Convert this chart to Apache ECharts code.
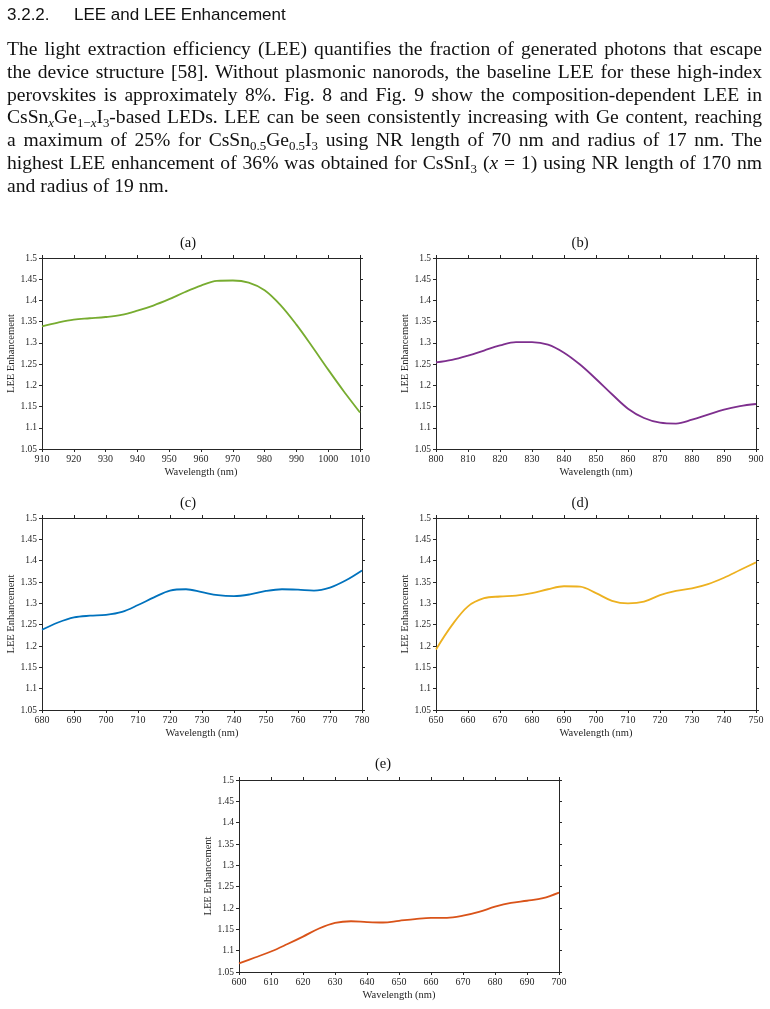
<!DOCTYPE html>
<html>
<head>
<meta charset="utf-8">
<script src="https://cdn.jsdelivr.net/npm/echarts@6/dist/echarts.min.js"></script>
<style>
  html, body { margin: 0; padding: 0; background: #fff; }
  #page { position: relative; width: 770px; height: 1009px; overflow: hidden; }
  #chart { position: absolute; left: 0; top: 0; width: 770px; height: 1009px; }
  #head { position: absolute; left: 7px; top: 5px; font-family: "Liberation Sans", Arial, sans-serif; font-size: 17px; color: #111; white-space: pre; }
  #head .num { display: inline-block; width: 67px; }
  #para { position: absolute; left: 7px; top: 38px; width: 755px; font-family: "Liberation Serif", "Times New Roman", serif; font-size: 19.6px; line-height: 22.8px; color: #111; }
  #para .ln { text-align: justify; text-align-last: justify; white-space: nowrap; }
  #para .ln.last { text-align-last: left; }
  #para sub { font-size: 66%; vertical-align: -0.3em; line-height: 0; }
</style>
</head>
<body>
<div id="page">
  <div id="chart"></div>
  <div id="head"><span class="num">3.2.2.</span>LEE and LEE Enhancement</div>
  <div id="para">
    <div class="ln">The light extraction efficiency (LEE) quantifies the fraction of generated photons that escape</div>
    <div class="ln">the device structure [58]. Without plasmonic nanorods, the baseline LEE for these high-index</div>
    <div class="ln">perovskites is approximately 8%. Fig. 8 and Fig. 9 show the composition-dependent LEE in</div>
    <div class="ln">CsSn<sub><i>x</i></sub>Ge<sub>1−<i>x</i></sub>I<sub>3</sub>-based LEDs. LEE can be seen consistently increasing with Ge content, reaching</div>
    <div class="ln">a maximum of 25% for CsSn<sub>0.5</sub>Ge<sub>0.5</sub>I<sub>3</sub> using NR length of 70 nm and radius of 17 nm. The</div>
    <div class="ln">highest LEE enhancement of 36% was obtained for CsSnI<sub>3</sub> (<i>x</i> = 1) using NR length of 170 nm</div>
    <div class="ln last">and radius of 19 nm.</div>
  </div>
</div>
<script>
// keep every justified line inside the text column
document.querySelectorAll('#para .ln').forEach(ln => {
  const probe = document.createElement('span');
  probe.style.whiteSpace = 'nowrap';
  probe.innerHTML = ln.innerHTML;
  ln.innerHTML = '';
  ln.appendChild(probe);
  const w = probe.getBoundingClientRect().width;
  const chars = probe.textContent.length;
  if (w > 754) probe.style.letterSpacing = ((754 - w) / chars) + 'px';
  ln.innerHTML = probe.innerHTML;
  if (w > 754) ln.style.letterSpacing = ((754 - w) / chars) + 'px';
});

// ---------------- data ----------------
const panelTitles = ['(a)', '(b)', '(c)', '(d)', '(e)'];
const xAxisName = 'Wavelength (nm)';
const yAxisName = 'LEE Enhancement';
const yTicks = [1.05, 1.1, 1.15, 1.2, 1.25, 1.3, 1.35, 1.4, 1.45, 1.5];

const wlA = [910, 915, 920, 925, 930, 935, 940, 945, 950, 955, 960, 965, 970, 975, 980, 985, 990, 995, 1000, 1005, 1010];
const leeA = [1.339, 1.348, 1.355, 1.358, 1.361, 1.366, 1.376, 1.388, 1.403, 1.420, 1.435, 1.446, 1.447, 1.442, 1.424, 1.389, 1.343, 1.291, 1.237, 1.185, 1.136];

const wlB = [800, 805, 810, 815, 820, 825, 830, 835, 840, 845, 850, 855, 860, 865, 870, 875, 880, 885, 890, 895, 900];
const leeB = [1.254, 1.260, 1.270, 1.282, 1.294, 1.302, 1.302, 1.296, 1.277, 1.249, 1.215, 1.179, 1.145, 1.123, 1.112, 1.110, 1.119, 1.131, 1.143, 1.151, 1.156];

const wlC = [680, 685, 690, 695, 700, 705, 710, 715, 720, 725, 730, 735, 740, 745, 750, 755, 760, 765, 770, 775, 780];
const leeC = [1.238, 1.255, 1.267, 1.271, 1.273, 1.280, 1.296, 1.314, 1.330, 1.333, 1.326, 1.319, 1.317, 1.321, 1.329, 1.333, 1.332, 1.330, 1.337, 1.354, 1.377];

const wlD = [650, 655, 660, 665, 670, 675, 680, 685, 690, 695, 700, 705, 710, 715, 720, 725, 730, 735, 740, 745, 750];
const leeD = [1.192, 1.249, 1.293, 1.312, 1.316, 1.318, 1.324, 1.333, 1.340, 1.339, 1.324, 1.306, 1.300, 1.304, 1.319, 1.329, 1.335, 1.345, 1.360, 1.378, 1.396];

const wlE = [600, 605, 610, 615, 620, 625, 630, 635, 640, 645, 650, 655, 660, 665, 670, 675, 680, 685, 690, 695, 700];
const leeE = [1.070, 1.084, 1.098, 1.115, 1.133, 1.152, 1.165, 1.169, 1.167, 1.166, 1.170, 1.174, 1.177, 1.177, 1.182, 1.191, 1.203, 1.212, 1.217, 1.223, 1.236];

const panels = [
  { wl: wlA, lee: leeA, color: '#77AC30' },
  { wl: wlB, lee: leeB, color: '#7E2F8E' },
  { wl: wlC, lee: leeC, color: '#0072BD' },
  { wl: wlD, lee: leeD, color: '#EDB120' },
  { wl: wlE, lee: leeE, color: '#D95319' }
];

// ---------------- layout ----------------
const gridBoxes = [
  { left: 42, top: 258, width: 318, height: 191 },
  { left: 436, top: 258, width: 320, height: 191 },
  { left: 42, top: 518, width: 320, height: 192 },
  { left: 436, top: 518, width: 320, height: 192 },
  { left: 239, top: 780, width: 320, height: 192 }
];
const titlePos = [[188, 243], [580, 243], [188, 503], [580, 503], [383, 764]];

const FONT = '"Liberation Serif", "Times New Roman", serif';
const AX = '#262626';

const grid = [], xAxis = [], yAxis = [], series = [], graphic = [];
panels.forEach((p, i) => {
  grid.push(Object.assign({ containLabel: false }, gridBoxes[i]));
  const xmin = p.wl[0], xmax = p.wl[p.wl.length - 1];
  const axLine = { show: true, onZero: false, lineStyle: { color: AX, width: 1 } };
  const tick = { show: true, inside: false, length: 3, lineStyle: { color: AX, width: 1 } };
  xAxis.push({
    type: 'value', gridIndex: i, position: 'bottom', min: xmin, max: xmax, interval: 10,
    axisLine: axLine, axisTick: tick, splitLine: { show: false },
    axisLabel: { fontFamily: FONT, fontSize: 10, color: AX, margin: 5, formatter: v => String(v) },
    name: xAxisName, nameLocation: 'middle', nameGap: 18,
    nameTextStyle: { fontFamily: FONT, fontSize: 10.5, color: AX }
  });
  xAxis.push({
    type: 'value', gridIndex: i, position: 'top', min: xmin, max: xmax, interval: 10,
    axisLine: axLine, axisTick: tick, splitLine: { show: false }, axisLabel: { show: false }
  });
  yAxis.push({
    type: 'value', gridIndex: i, position: 'left', min: yTicks[0], max: yTicks[yTicks.length - 1], interval: 0.05,
    axisLine: axLine, axisTick: tick, splitLine: { show: false },
    axisLabel: { fontFamily: FONT, fontSize: 9.5, color: AX, margin: 5 },
    name: yAxisName, nameLocation: 'middle', nameGap: 25,
    nameTextStyle: { fontFamily: FONT, fontSize: 10.5, color: AX }
  });
  yAxis.push({
    type: 'value', gridIndex: i, position: 'right', min: yTicks[0], max: yTicks[yTicks.length - 1], interval: 0.05,
    axisLine: axLine, axisTick: tick, splitLine: { show: false }, axisLabel: { show: false }
  });
  series.push({
    type: 'line', xAxisIndex: 2 * i, yAxisIndex: 2 * i,
    data: p.wl.map((w, k) => [w, p.lee[k]]),
    smooth: 0.35, showSymbol: false, symbol: 'none',
    lineStyle: { color: p.color, width: 1.8 }, silent: true
  });
  graphic.push({
    type: 'text', x: titlePos[i][0], y: titlePos[i][1],
    style: { text: panelTitles[i], fontFamily: FONT, fontSize: 14.5, fill: '#111', align: 'center', verticalAlign: 'middle' }
  });
});

const chart = echarts.init(document.getElementById('chart'), null, { renderer: 'canvas' });
chart.setOption({ animation: false, grid, xAxis, yAxis, series, graphic });
</script>
</body>
</html>
